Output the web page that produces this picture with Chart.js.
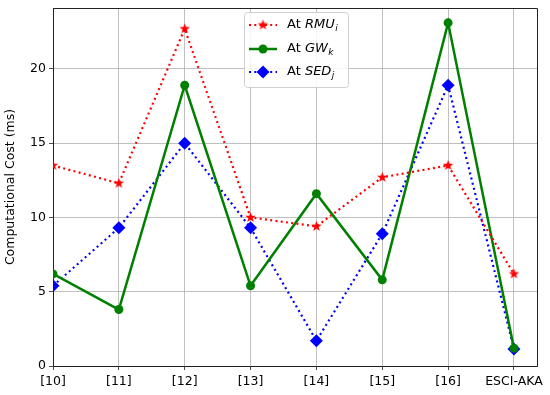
<!DOCTYPE html>
<html><head><meta charset="utf-8">
<script src="https://cdn.jsdelivr.net/npm/chart.js@4.4.1/dist/chart.umd.min.js"></script>
<style>html,body{margin:0;padding:0;background:#fff}#wrap{width:550px;height:395px}</style>
</head><body><div id="wrap"><canvas id="c" width="550" height="395"></canvas></div>
<script>
const categories = ["[10]","[11]","[12]","[13]","[14]","[15]","[16]","ESCI-AKA"];
const rmuValues = [13.5, 12.3, 22.7, 10.0, 9.4, 12.7, 13.5, 6.2];
const gwValues  = [6.2, 3.8, 18.9, 5.4, 11.6, 5.8, 23.1, 1.2];
const sedValues = [5.4, 9.3, 15.0, 9.3, 1.7, 8.9, 18.9, 1.15];
const yTicks = [0, 5, 10, 15, 20];
const seriesNames = [["At ","RMU","i"],["At ","GW","k"],["At ","SED","j"]];

const FONT = "'DejaVu Sans', sans-serif";
function starCanvas(color, r){
  const s = Math.ceil(r*2+2), c = document.createElement('canvas');
  c.width = s; c.height = s;
  const g = c.getContext('2d'); g.fillStyle = color; g.beginPath();
  for(let i=0;i<10;i++){
    const rr = i%2===0 ? r : r*0.42;
    const a = -Math.PI/2 + i*Math.PI/5;
    const x = s/2 + rr*Math.cos(a), y = s/2 + rr*Math.sin(a);
    i===0 ? g.moveTo(x,y) : g.lineTo(x,y);
  }
  g.closePath(); g.fill(); return c;
}
const star = starCanvas('#ff0000', 5.5);
const toPts = arr => arr.map((v,i)=>({x:i,y:v}));

const legendPlugin = {
  id:'mplLegend',
  afterDraw(chart){
    const ctx = chart.ctx; ctx.save();
    const x0=244, y0=12, w=104, h=75;
    ctx.fillStyle='rgba(255,255,255,0.85)'; ctx.strokeStyle='#d0d0d0'; ctx.lineWidth=1;
    ctx.beginPath(); ctx.roundRect(x0+0.5,y0+0.5,w,h,3); ctx.fill(); ctx.stroke();
    const rows=[25,49,72];
    chart.data.datasets.forEach((ds,i)=>{
      const y=rows[i];
      ctx.strokeStyle=ds.borderColor; ctx.lineWidth=ds.borderWidth;
      ctx.setLineDash(ds.borderDash||[]); ctx.lineCap='butt';
      ctx.beginPath(); ctx.moveTo(249,y); ctx.lineTo(277,y); ctx.stroke(); ctx.setLineDash([]);
      const cx=263;
      if(i===0){ ctx.drawImage(star, cx-star.width/2, y-star.height/2); }
      else if(i===1){ ctx.fillStyle=ds.pointBackgroundColor; ctx.beginPath(); ctx.arc(cx,y,4.5,0,Math.PI*2); ctx.fill(); }
      else { ctx.fillStyle=ds.pointBackgroundColor; ctx.beginPath(); ctx.moveTo(cx,y-6.5); ctx.lineTo(cx+6.5,y); ctx.lineTo(cx,y+6.5); ctx.lineTo(cx-6.5,y); ctx.closePath(); ctx.fill(); }
      const n=seriesNames[i]; let tx=287;
      ctx.fillStyle='#000'; ctx.textBaseline='middle'; ctx.textAlign='left';
      ctx.font="13px "+FONT; ctx.fillText(n[0],tx,y); tx+=ctx.measureText(n[0]).width;
      ctx.font="italic 13px "+FONT; ctx.fillText(n[1],tx,y); tx+=ctx.measureText(n[1]).width;
      ctx.font="italic 9px "+FONT; ctx.fillText(n[2],tx+0.5,y+4);
    });
    ctx.restore();
  }
};

new Chart(document.getElementById('c'),{
  type:'line',
  data:{datasets:[
    {label:'RMU', data:toPts(rmuValues), borderColor:'#ff0000', borderWidth:2.2, borderDash:[2,3.3],
     pointStyle:star, pointRadius:5.5, pointBackgroundColor:'#ff0000', pointBorderWidth:0, tension:0},
    {label:'GW', data:toPts(gwValues), borderColor:'#008000', borderWidth:2.5,
     pointStyle:'circle', pointRadius:4.5, pointBackgroundColor:'#008000', pointBorderColor:'#008000', pointBorderWidth:0, tension:0},
    {label:'SED', data:toPts(sedValues), borderColor:'#0000ff', borderWidth:2.2, borderDash:[2,3.3],
     pointStyle:'rectRot', pointRadius:6.5, pointBackgroundColor:'#0000ff', pointBorderColor:'#0000ff', pointBorderWidth:0, tension:0}
  ]},
  options:{
    responsive:false, animation:false, devicePixelRatio:1,
    layout:{padding:{top:8,right:13,left:3,bottom:0}},
    plugins:{legend:{display:false}, tooltip:{enabled:false}},
    scales:{
      x:{type:'linear', min:0, max:7.35,
        afterBuildTicks(s){ s.ticks = categories.map((c,i)=>({value:i})); },
        afterFit(s){ s.height = 29; s.paddingLeft = 0; s.paddingRight = 0; },
        ticks:{callback:(v)=>categories[v]??'', color:'#000', font:{family:FONT,size:12.5}, padding:4, maxRotation:0, autoSkip:false},
        grid:{color:'#b0b0b0', lineWidth:0.8, tickLength:4, tickColor:'#222', drawTicks:true},
        border:{color:'#222', width:1}},
      y:{min:0, max:24.1,
        afterBuildTicks(s){ s.ticks = yTicks.map(v=>({value:v})); },
        afterFit(s){ s.width = 50; s.paddingTop = 0; s.paddingBottom = 0; },
        ticks:{color:'#000', font:{family:FONT,size:12.5}, padding:3},
        grid:{color:'#b0b0b0', lineWidth:0.8, tickLength:4, tickColor:'#222'},
        border:{color:'#222', width:1},
        title:{display:true, text:'Computational Cost (ms)', color:'#000', font:{family:FONT,size:12.5}, padding:{top:0,bottom:2}}}
    }
  },
  plugins:[{id:'rightTopBorder', afterDraw(chart){
    const a=chart.chartArea, ctx=chart.ctx; ctx.save(); ctx.strokeStyle='#222'; ctx.lineWidth=1;
    ctx.beginPath(); ctx.moveTo(a.left,a.top+0.5); ctx.lineTo(a.right+0.5,a.top+0.5); ctx.lineTo(a.right+0.5,a.bottom); ctx.stroke(); ctx.restore();
  }}, legendPlugin]
});
</script></body></html>
